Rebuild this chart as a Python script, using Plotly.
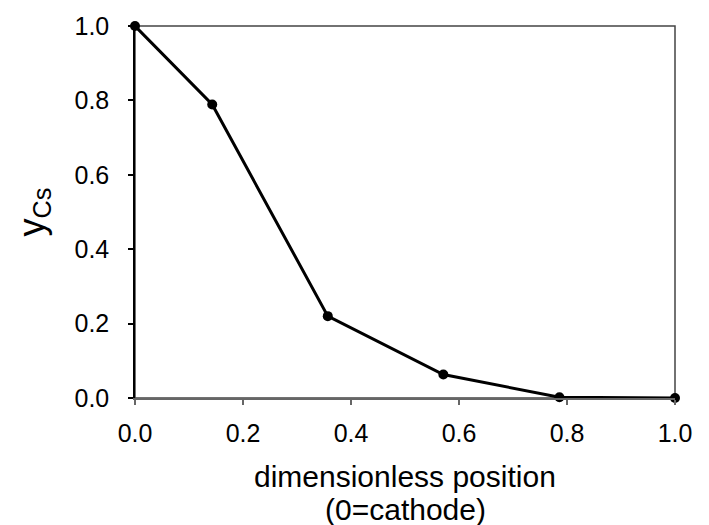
import plotly.graph_objects as go

position = [0.0, 0.143, 0.357, 0.571, 0.786, 1.0]
y_cs = [1.0, 0.789, 0.220, 0.063, 0.002, 0.0]
tick_vals = [0.0, 0.2, 0.4, 0.6, 0.8, 1.0]
tick_text = ["0.0", "0.2", "0.4", "0.6", "0.8", "1.0"]
x_title_lines = ["dimensionless position", "(0=cathode)"]
y_title = "y<sub>Cs</sub>"

fig = go.Figure()
fig.add_trace(go.Scatter(
    x=position, y=y_cs, mode="lines+markers",
    line=dict(color="black", width=3),
    marker=dict(color="black", size=10),
    cliponaxis=False, showlegend=False,
))

font = "Liberation Sans, Arial, sans-serif"
fig.update_layout(
    width=709, height=525,
    margin=dict(l=135, r=34, t=19, b=127),
    paper_bgcolor="white", plot_bgcolor="white",
    font=dict(family=font, color="black"),
    shapes=[dict(type="rect", xref="paper", yref="paper", x0=0, y0=0, x1=1, y1=1,
                 line=dict(color="#444", width=1.5), layer="below")],
)
for i, txt in enumerate(x_title_lines):
    fig.add_annotation(
        text=txt, xref="paper", yref="paper", x=0.5, y=0,
        xanchor="center", yanchor="middle", yshift=-78 - 33 * i,
        showarrow=False, font=dict(size=30, family=font, color="black"),
    )
fig.update_xaxes(
    range=[0, 1], tickvals=tick_vals, ticktext=tick_text,
    showgrid=False, zeroline=False, showline=True, linecolor="#666", linewidth=2,
    ticks="outside", ticklen=5, tickcolor="#666", tickwidth=1.5,
    tickfont=dict(size=25), ticklabelstandoff=7,
)
fig.update_yaxes(
    range=[0, 1], tickvals=tick_vals, ticktext=tick_text,
    showgrid=False, zeroline=False, showline=True, linecolor="black", linewidth=1.5,
    ticks="outside", ticklen=5, tickcolor="black", tickwidth=1.5,
    tickfont=dict(size=25), ticklabelstandoff=14,
    title=dict(text=y_title, font=dict(size=36), standoff=19),
)

fig.write_html("out.html")
